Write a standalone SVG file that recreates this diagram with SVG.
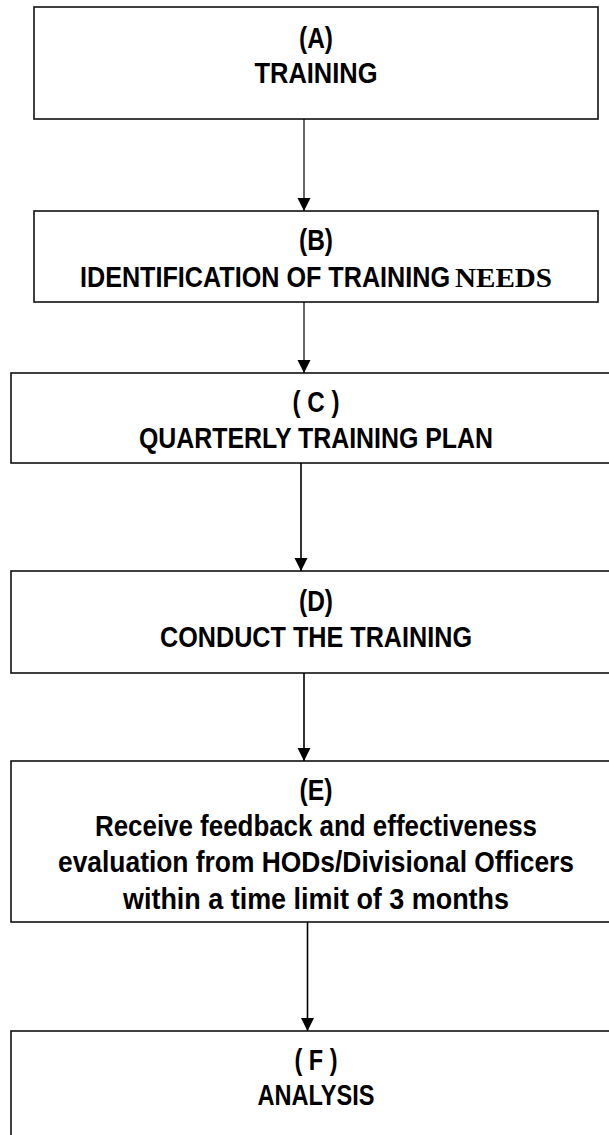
<svg xmlns="http://www.w3.org/2000/svg" width="609" height="1135" viewBox="0 0 609 1135">
  <style>
    .box { fill: #ffffff; stroke: #111111; stroke-width: 1.6; }
    .t { font-family: "Liberation Sans Narrow", "Liberation Sans", Arial, sans-serif; font-weight: bold; font-size: 29px; fill: #000000; text-anchor: middle; }
    .ts { font-family: "Liberation Sans Narrow", "Liberation Sans", Arial, sans-serif; font-weight: bold; font-size: 29px; fill: #000000; }
    .serif { font-family: "Liberation Serif", "Times New Roman", serif; font-weight: bold; font-size: 27px; }
    .conn { stroke: #000000; fill: none; }
  </style>
  <defs>
    <marker id="arrow" markerUnits="userSpaceOnUse" markerWidth="14" markerHeight="14" refX="13" refY="6.5" orient="auto">
      <path d="M0,0 L13,6.5 L0,13 Z" fill="#000000"/>
    </marker>
  </defs>
  <rect width="609" height="1135" fill="#ffffff"/>

  <g id="node-a">
    <rect class="box" x="34" y="7" width="564" height="112"/>
    <text class="t" x="316" y="48" textLength="34" lengthAdjust="spacingAndGlyphs">(A)</text>
    <text class="t" x="316" y="83" textLength="123" lengthAdjust="spacingAndGlyphs">TRAINING</text>
  </g>

  <g id="node-b">
    <rect class="box" x="34" y="211" width="564" height="91"/>
    <text class="t" x="316" y="250" textLength="34" lengthAdjust="spacingAndGlyphs">(B)</text>
    <text class="ts" x="80" y="287"><tspan textLength="370" lengthAdjust="spacingAndGlyphs">IDENTIFICATION OF TRAINING</tspan><tspan class="serif" x="455" textLength="97" lengthAdjust="spacingAndGlyphs">NEEDS</tspan></text>
  </g>

  <g id="node-c">
    <rect class="box" x="11" y="373" width="610" height="90"/>
    <text class="t" x="316" y="412" textLength="47" lengthAdjust="spacingAndGlyphs">( C )</text>
    <text class="t" x="316" y="448" textLength="354" lengthAdjust="spacingAndGlyphs">QUARTERLY TRAINING PLAN</text>
  </g>

  <g id="node-d">
    <rect class="box" x="11" y="571" width="610" height="102"/>
    <text class="t" x="316" y="611" textLength="34" lengthAdjust="spacingAndGlyphs">(D)</text>
    <text class="t" x="316" y="647" textLength="312" lengthAdjust="spacingAndGlyphs">CONDUCT THE TRAINING</text>
  </g>

  <g id="node-e">
    <rect class="box" x="11" y="761" width="610" height="161"/>
    <text class="t" x="316" y="800" textLength="33" lengthAdjust="spacingAndGlyphs">(E)</text>
    <text class="t" x="316" y="836" textLength="442" lengthAdjust="spacingAndGlyphs">Receive feedback and effectiveness</text>
    <text class="t" x="316" y="872" textLength="516" lengthAdjust="spacingAndGlyphs">evaluation from HODs/Divisional Officers</text>
    <text class="t" x="316" y="909" textLength="386" lengthAdjust="spacingAndGlyphs">within a time limit of 3 months</text>
  </g>

  <g id="node-f">
    <rect class="box" x="11" y="1031" width="610" height="120"/>
    <text class="t" x="316" y="1070" textLength="43" lengthAdjust="spacingAndGlyphs">( F )</text>
    <text class="t" x="316" y="1105" textLength="117" lengthAdjust="spacingAndGlyphs">ANALYSIS</text>
  </g>

  <g id="connectors">
    <line class="conn" x1="304" y1="119" x2="304" y2="211" stroke-width="1.2" marker-end="url(#arrow)"/>
    <line class="conn" x1="304" y1="302" x2="304" y2="373" stroke-width="1.2" marker-end="url(#arrow)"/>
    <line class="conn" x1="301" y1="463" x2="301" y2="571" stroke-width="1.6" marker-end="url(#arrow)"/>
    <line class="conn" x1="304" y1="673" x2="304" y2="761" stroke-width="1.6" marker-end="url(#arrow)"/>
    <line class="conn" x1="307.5" y1="922" x2="307.5" y2="1031" stroke-width="1.6" marker-end="url(#arrow)"/>
  </g>
</svg>
